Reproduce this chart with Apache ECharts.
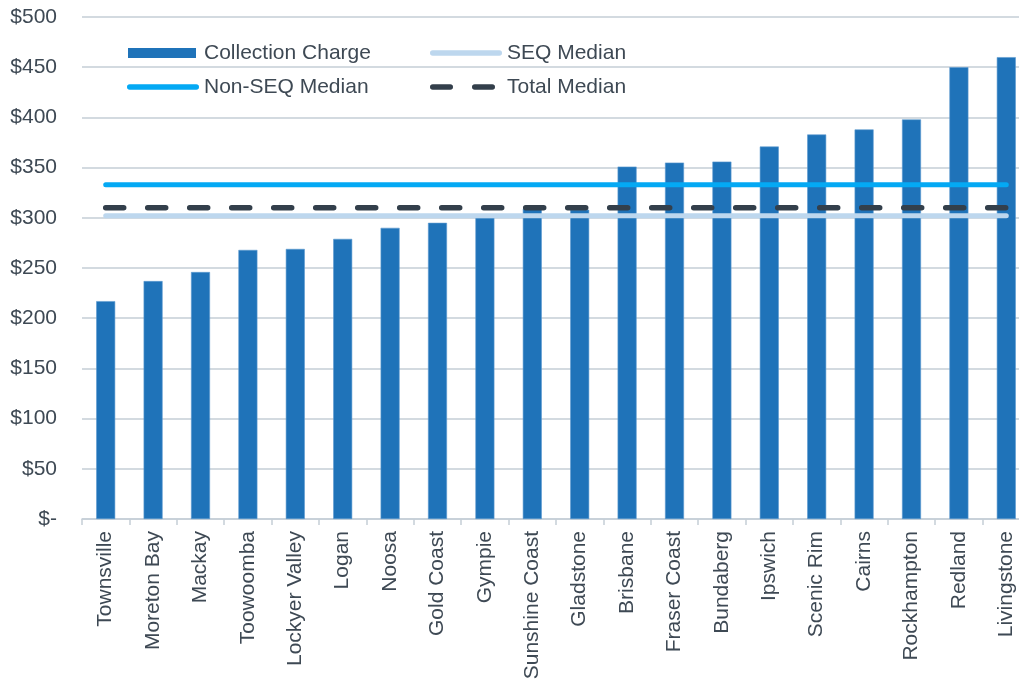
<!DOCTYPE html>
<html>
<head>
<meta charset="utf-8">
<script src="https://cdn.jsdelivr.net/npm/echarts@6/dist/echarts.min.js"></script>
<style>
html,body{margin:0;padding:0;background:#fff;}
#chart{width:1019px;height:684px;overflow:hidden;}
</style>
</head>
<body>
<div id="chart"></div>
<script>
const categories = ['Townsville','Moreton Bay','Mackay','Toowoomba','Lockyer Valley','Logan','Noosa','Gold Coast','Gympie','Sunshine Coast','Gladstone','Brisbane','Fraser Coast','Bundaberg','Ipswich','Scenic Rim','Cairns','Rockhampton','Redland','Livingstone'];
const collectionCharge = [217,237,246,268,269,279,290,295,300,309,308,351,355,356,371,383,388,398,450,460];
const seqMedian = 302;
const nonSeqMedian = 333;
const totalMedian = 310;
const yTicks = [0,50,100,150,200,250,300,350,400,450,500];

const textColor = '#3E4954';
const gridColor = '#C5CED6';
const font = 'Liberation Sans, Arial, sans-serif';

function span(v){ return [[categories[0], v], [categories[categories.length-1], v]]; }

// legend icon paths in a 72x10 box
const BOX = 'M0,0 L0,0 Z M72,10 L72,10 Z ';
function seg(x0, x1, y0, h){
  const r = h/2;
  return `M${x0+r},${y0} L${x1-r},${y0} A${r},${r} 0 0 1 ${x1-r},${y0+h} L${x0+r},${y0+h} A${r},${r} 0 0 1 ${x0+r},${y0} Z `;
}
const iconBar = 'path://' + BOX + 'M1,0 L69,0 L69,10 L1,10 Z';
const iconSolid = 'path://' + BOX + seg(0, 72, 2.25, 5.5);
const iconDash = 'path://' + BOX + seg(0, 23, 2.25, 5.5) + seg(42, 65, 2.25, 5.5);

const legendCommon = {orient:'vertical',itemWidth:72,itemHeight:10,itemGap:12,symbolKeepAspect:false,
  itemStyle:{borderWidth:0},
  textStyle:{color:textColor,fontSize:21,fontFamily:font,lineHeight:22}};

const chart = echarts.init(document.getElementById('chart'), null, {renderer:'canvas'});
chart.setOption({
  animation:false,
  backgroundColor:'#fff',
  textStyle:{fontFamily:font},
  grid:{left:82,width:948,top:17,bottom:165,containLabel:false,outerBoundsMode:'none'},
  legend:[
    Object.assign({}, legendCommon, {left:122,top:37,
      data:[{name:'Collection Charge',icon:iconBar},{name:'Non-SEQ Median',icon:iconSolid}]}),
    Object.assign({}, legendCommon, {left:425,top:37,
      data:[{name:'SEQ Median',icon:iconSolid},{name:'Total Median',icon:iconDash}]})
  ],
  xAxis:{
    type:'category',data:categories,boundaryGap:true,
    axisLine:{lineStyle:{color:gridColor,width:1.5}},
    axisTick:{show:true,length:6,alignWithLabel:false,lineStyle:{color:gridColor,width:1.5}},
    axisLabel:{rotate:90,margin:12,fontSize:21,color:textColor,fontFamily:font,interval:0}
  },
  yAxis:{
    type:'value',min:0,max:500,interval:50,
    axisLine:{show:false},axisTick:{show:false},
    splitLine:{lineStyle:{color:gridColor,width:1.5}},
    axisLabel:{margin:25,fontSize:21,color:textColor,fontFamily:font,
      formatter:function(v){return v===0?'$-':'$'+v;}}
  },
  series:[
    {name:'Collection Charge',type:'bar',data:collectionCharge,barWidth:19,
     itemStyle:{color:'#1F73B9',borderColor:'#5E9AD0',borderWidth:0.6},z:2},
    {name:'SEQ Median',type:'line',data:span(seqMedian),symbol:'none',
     lineStyle:{color:'#BDD7EE',width:5,cap:'round'},itemStyle:{color:'#BDD7EE'},z:3},
    {name:'Non-SEQ Median',type:'line',data:span(nonSeqMedian),symbol:'none',
     lineStyle:{color:'#04A9F4',width:5,cap:'round'},itemStyle:{color:'#04A9F4'},z:3},
    {name:'Total Median',type:'line',data:span(totalMedian),symbol:'none',
     lineStyle:{color:'#333F4B',width:5.5,type:[18,24],cap:'round'},itemStyle:{color:'#333F4B'},z:4}
  ]
});
</script>
</body>
</html>
